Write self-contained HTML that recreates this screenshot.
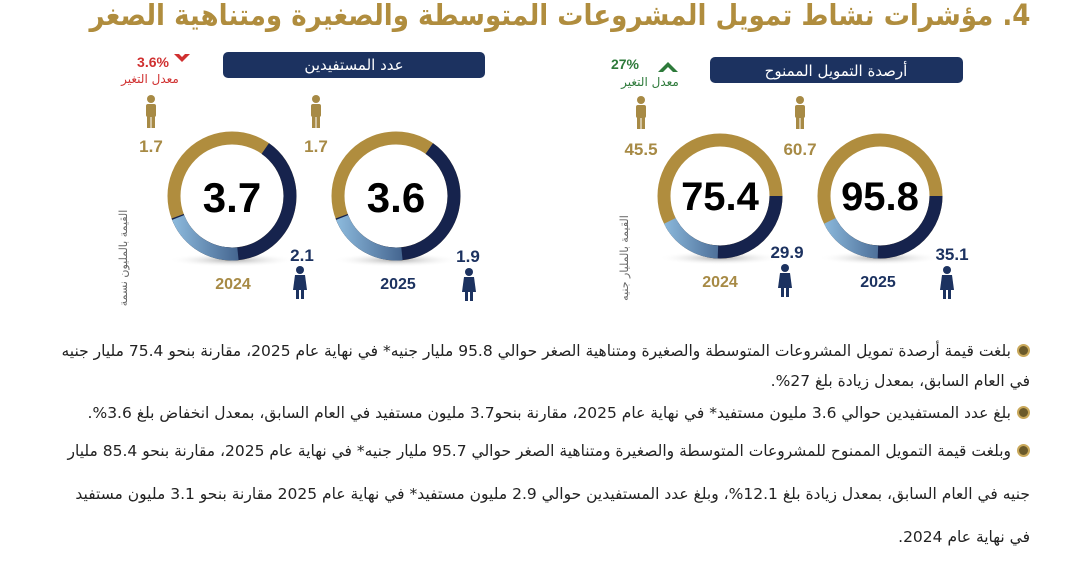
<!DOCTYPE html>
<html><head><meta charset="utf-8"><style>
body{margin:0;width:1080px;height:562px;background:#fff;overflow:hidden;position:relative;font-family:"Liberation Sans","Noto Sans CJK SC",sans-serif}
.a{position:absolute}
.t{position:absolute;right:50px;width:975px;direction:rtl;text-align:right;font-size:15.5px;color:#222;font-family:"DejaVu Sans","Liberation Sans",sans-serif}
.b{display:inline-block;width:13px;height:13px;border-radius:50%;background:#6b5a2a;border:2px solid #c9a85a;box-sizing:border-box;margin-left:6px;vertical-align:-1px}
</style></head><body>
<div class="a" style="right:50px;top:-2px;direction:rtl;font-size:29px;font-weight:bold;color:#b08d3e;font-family:'DejaVu Sans',sans-serif;white-space:nowrap;transform:scaleX(0.9);transform-origin:right top">4. مؤشرات نشاط تمويل المشروعات المتوسطة والصغيرة ومتناهية الصغر</div>
<svg class="a" style="left:0;top:0" width="1080" height="320">
<defs>
<linearGradient id="lb" x1="0" y1="0" x2="1" y2="0"><stop offset="0" stop-color="#8bb8db"/><stop offset="0.6" stop-color="#3f5f8a"/><stop offset="1" stop-color="#1c2b55"/></linearGradient>
<radialGradient id="sh"><stop offset="0" stop-color="#888" stop-opacity=".7"/><stop offset="1" stop-color="#fff" stop-opacity="0"/></radialGradient>
<g id="d1">
<ellipse cx="0" cy="62" rx="62" ry="7" fill="url(#sh)"/>
<circle r="56" fill="#fff" stroke="#b08d3e" stroke-width="13"/>
<circle r="56" fill="none" stroke="#16234d" stroke-width="13" stroke-dasharray="146.6 400"/>
<circle r="56" fill="none" stroke="url(#lb)" stroke-width="13" stroke-dasharray="0 90 60 400"/>
</g>
<g id="d2">
<ellipse cx="0" cy="64" rx="64" ry="7" fill="url(#sh)"/>
<circle r="58" fill="#fff" stroke="#b08d3e" stroke-width="13"/>
<circle r="58" fill="none" stroke="#16234d" stroke-width="13" stroke-dasharray="217 400" transform="rotate(-55)"/>
<circle r="58" fill="none" stroke="url(#lb)" stroke-width="13" stroke-dasharray="0 85 75 400"/>
</g>
<g id="m"><circle cx="0" cy="-12" r="4"/><rect x="-5" y="-7" width="10" height="13" rx="2"/><rect x="-4" y="5" width="3.5" height="12"/><rect x="0.5" y="5" width="3.5" height="12"/></g>
<g id="f"><circle cx="0" cy="-12" r="4"/><path d="M-5 -7 H5 L7 8 H-7Z"/><rect x="-4" y="7" width="3" height="10"/><rect x="1" y="7" width="3" height="10"/></g>
</defs>
<rect x="710" y="57" width="253" height="26" rx="5" fill="#1c3260"/>
<text x="836" y="76" fill="#fff" font-size="15" text-anchor="middle" font-family="DejaVu Sans">أرصدة التمويل الممنوح</text>
<rect x="223" y="52" width="262" height="26" rx="5" fill="#1c3260"/>
<text x="354" y="70" fill="#fff" font-size="15" text-anchor="middle" font-family="DejaVu Sans">عدد المستفيدين</text>
<path d="M658 72 L668 62 L678 72 L673 72 L668 67 L663 72Z" fill="#2d7a3a"/>
<text x="625" y="69" fill="#2d7a3a" font-size="14" font-weight="bold" text-anchor="middle">27%</text>
<text x="650" y="86" fill="#2d7a3a" font-size="12" text-anchor="middle" font-family="DejaVu Sans">معدل التغير</text>
<path d="M174 54 L182 62 L190 54 L185 54 L182 57 L179 54Z" fill="#d03030"/>
<text x="153" y="67" fill="#d03030" font-size="14" font-weight="bold" text-anchor="middle">3.6%</text>
<text x="150" y="83" fill="#d03030" font-size="12" text-anchor="middle" font-family="DejaVu Sans">معدل التغير</text>
<use href="#d1" x="720" y="196"/><use href="#d1" x="880" y="196"/>
<use href="#d2" x="232" y="196"/><use href="#d2" x="396" y="196"/>
<g font-weight="bold" text-anchor="middle" fill="#000">
<text x="720" y="210" font-size="40">75.4</text><text x="880" y="210" font-size="40">95.8</text>
<text x="232" y="212" font-size="42">3.7</text><text x="396" y="212" font-size="42">3.6</text>
</g>
<g fill="#a78a45"><use href="#m" x="641" y="112"/><use href="#m" x="800" y="112"/><use href="#m" x="151" y="111"/><use href="#m" x="316" y="111"/></g>
<g fill="#1c3260"><use href="#f" x="785" y="280"/><use href="#f" x="947" y="282"/><use href="#f" x="300" y="282"/><use href="#f" x="469" y="284"/></g>
<g font-weight="bold" font-size="17" text-anchor="middle">
<text x="641" y="155" fill="#a78a45">45.5</text><text x="800" y="155" fill="#a78a45">60.7</text>
<text x="151" y="152" fill="#a78a45">1.7</text><text x="316" y="152" fill="#a78a45">1.7</text>
<text x="787" y="258" fill="#1c3260">29.9</text><text x="952" y="260" fill="#1c3260">35.1</text>
<text x="302" y="261" fill="#1c3260">2.1</text><text x="468" y="262" fill="#1c3260">1.9</text>
<text x="720" y="287" fill="#a78a45" font-size="16">2024</text><text x="878" y="287" fill="#1c3260" font-size="16">2025</text>
<text x="233" y="289" fill="#a78a45" font-size="16">2024</text><text x="398" y="289" fill="#1c3260" font-size="16">2025</text>
</g>
<text transform="translate(628,258) rotate(-90)" font-size="11" fill="#666" text-anchor="middle" font-family="DejaVu Sans">القيمة بالمليار جنيه</text>
<text transform="translate(127,258) rotate(-90)" font-size="11" fill="#666" text-anchor="middle" font-family="DejaVu Sans">القيمة بالمليون نسمة</text>
</svg>
<div class="t" style="top:336px;line-height:30px"><span class="b"></span>بلغت قيمة أرصدة تمويل المشروعات المتوسطة والصغيرة ومتناهية الصغر حوالي 95.8 مليار جنيه* في نهاية عام 2025، مقارنة بنحو 75.4 مليار جنيه في العام السابق، بمعدل زيادة بلغ 27%.</div>
<div class="t" style="top:400px;line-height:26px"><span class="b"></span>بلغ عدد المستفيدين حوالي 3.6 مليون مستفيد* في نهاية عام 2025، مقارنة بنحو3.7 مليون مستفيد في العام السابق، بمعدل انخفاض بلغ 3.6%.</div>
<div class="t" style="top:430px;line-height:43px"><span class="b"></span>وبلغت قيمة التمويل الممنوح للمشروعات المتوسطة والصغيرة ومتناهية الصغر حوالي 95.7 مليار جنيه* في نهاية عام 2025، مقارنة بنحو 85.4 مليار جنيه في العام السابق، بمعدل زيادة بلغ 12.1%، وبلغ عدد المستفيدين حوالي 2.9 مليون مستفيد* في نهاية عام 2025 مقارنة بنحو 3.1 مليون مستفيد في نهاية عام 2024.</div>
</body></html>
